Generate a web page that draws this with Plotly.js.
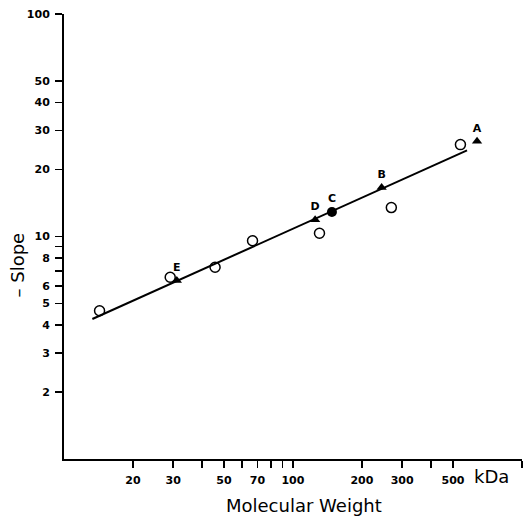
<!DOCTYPE html>
<html>
<head>
<meta charset="utf-8">
<script src="https://cdn.plot.ly/plotly-3.0.1.min.js"></script>
<style>html,body{margin:0;padding:0;background:#fff;}#chart{width:526px;height:517px;}</style>
</head>
<body>
<div id="chart"></div>
<script>
// Open circles (reference proteins)
const openMW = [14.3, 29.1, 45.7, 66.6, 130.6, 269, 539];
const openSlope = [4.64, 6.56, 7.28, 9.57, 10.35, 13.5, 25.9];

// Labelled triangles
const triLabels = ['A', 'B', 'D', 'E'];
const triMW = [637, 244, 125, 31.1];
const triSlope = [26.8, 16.6, 11.9, 6.34];

// Labelled filled circle
const dotLabels = ['C'];
const dotMW = [148];
const dotSlope = [12.9];

// Fitted line end points
const fitMW = [13.3, 576];
const fitSlope = [4.26, 24.4];

// Axis ticks
const xTickVals = [20, 30, 40, 50, 60, 70, 80, 90, 100, 200, 300, 400, 500, 1000];
const xTickText = ['20', '30', '', '50', '', '70', '', '', '100', '200', '300', '', '500', ''];
const yTickVals = [2, 3, 4, 5, 6, 7, 8, 9, 10, 20, 30, 40, 50, 100];
const yTickText = ['2', '3', '4', '5', '6', '', '8', '', '10', '20', '30', '40', '50', '100'];

const FAM = 'DejaVu Sans, Liberation Sans, Arial, sans-serif';
const tickFont = {family: FAM, size: 11, color: '#000', weight: 'bold'};
const lblFont = {family: FAM, size: 11, color: '#000', weight: 'bold'};
const titleFont = {family: FAM, size: 18, color: '#000'};

const traces = [
  {x: fitMW, y: fitSlope, mode: 'lines', line: {color: '#000', width: 2}, hoverinfo: 'skip'},
  {x: openMW, y: openSlope, mode: 'markers',
   marker: {symbol: 'circle-open', size: 10, color: '#000', line: {width: 1.5, color: '#000'}}},
  {x: triMW, y: triSlope, mode: 'markers+text', text: triLabels, textposition: 'top center',
   textfont: lblFont, marker: {symbol: 'triangle-up', size: 9, color: '#000'}},
  {x: dotMW, y: dotSlope, mode: 'markers+text', text: dotLabels, textposition: 'top center',
   textfont: lblFont, marker: {symbol: 'circle', size: 10, color: '#000'}}
];

const axisCommon = {
  type: 'log', tickmode: 'array',
  ticks: 'outside', ticklen: 7, tickwidth: 1.5, tickcolor: '#000', ticklabelstandoff: 3,
  showgrid: false, zeroline: false, showline: true, linecolor: '#000', linewidth: 2,
  tickfont: tickFont
};

const layout = {
  width: 526, height: 517,
  margin: {l: 64, r: 4, t: 14, b: 58},
  paper_bgcolor: '#fff', plot_bgcolor: '#fff',
  showlegend: false,
  xaxis: Object.assign({}, axisCommon, {range: [1, 3.0005], tickvals: xTickVals, ticktext: xTickText}),
  yaxis: Object.assign({}, axisCommon, {range: [0, 2.0005], tickvals: yTickVals, ticktext: yTickText}),
  annotations: [
    {text: 'kDa', xref: 'paper', yref: 'paper', x: 0, y: 0, xshift: 491.5 - 64, yshift: -(476 - 459),
     xanchor: 'center', yanchor: 'middle', showarrow: false, font: titleFont},
    {text: 'Molecular Weight', xref: 'paper', yref: 'paper', x: 0, y: 0, xshift: 304 - 64, yshift: -(505 - 459),
     xanchor: 'center', yanchor: 'middle', showarrow: false, font: titleFont},
    {text: '– Slope', xref: 'paper', yref: 'paper', x: 0, y: 0, xshift: 16.5 - 64, yshift: 459 - 265,
     xanchor: 'center', yanchor: 'middle', textangle: -90, showarrow: false, font: titleFont}
  ]
};

Plotly.newPlot('chart', traces, layout, {displayModeBar: false, staticPlot: true});
</script>
</body>
</html>
